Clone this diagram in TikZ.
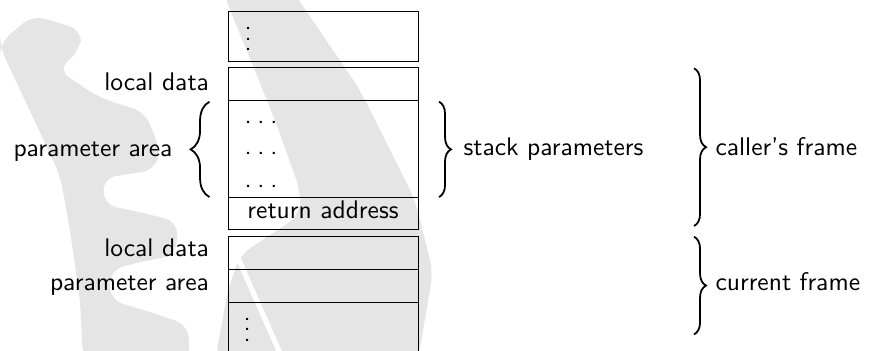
\documentclass[tikz,border=0pt]{standalone}
\usetikzlibrary{decorations.pathreplacing}
\renewcommand{\familydefault}{\sfdefault}
\newcommand{\spdots}{.\kern2.3pt.\kern2.3pt.}
\begin{document}
\begin{tikzpicture}[x=0.392pt,y=-0.392pt,
  cell/.style={draw,line width=0.4pt,minimum width=74.48pt,inner sep=0pt,anchor=north west},
  lbl/.style={inner sep=0pt},
  wm/.style={fill=black!10,draw=none,rounded corners=5pt},
  rbrace/.style={decorate,decoration={brace,amplitude=4.7pt},line width=0.7pt},
  lbrace/.style={decorate,decoration={brace,amplitude=7.4pt},line width=0.7pt}]
\clip (0,0) rectangle (869,350);
% watermark
\fill[wm] (0,43) -- (33,15) -- (82,30) -- (80,50) -- (58,70) -- (100,98) -- (145,112)
  -- (160,150) -- (155,170) -- (103,178) -- (104,205) -- (140,212) -- (178,222)
  -- (176,255) -- (140,262) -- (110,270) -- (110,300) -- (150,312) -- (188,325)
  -- (190,360) -- (83,360) -- (80,300) -- (70,230) -- (60,175) -- (0,47) -- cycle;
\fill[wm] (222,-10) -- (292,-10) -- (360,90) -- (415,200) -- (433,272) -- (418,360)
  -- (215,360) -- (228,290) -- (240,255) -- (300,215) -- (300,190) -- (275,120) -- cycle;
\draw[white,line width=2pt] (238,258) -- (283,360);
% cells
\node[cell,minimum height=19.6pt] (top) at (227.5,10.7) {};
\node[cell,minimum height=12.82pt] (ld1) at (227.5,67.3) {};
\node[cell,minimum height=38.14pt] (pblk) at (227.5,100) {};
\node[cell,minimum height=12.54pt,text depth=3pt] (ret) at (227.5,197.3) {return address};
\node[cell,minimum height=12.94pt] (ld2) at (227.5,236) {};
\node[cell,minimum height=12.94pt] (pa2) at (227.5,269) {};
\node[cell,minimum height=30pt] (bot) at (227.5,302) {};
% dots
\node[lbl,anchor=south west] (vt) at (244,50.8) {$\vdots$};
\node[lbl,anchor=base west] (d1) at (244,123.3) {\spdots};
\node[lbl,anchor=base west] (d2) at (244,154.5) {\spdots};
\node[lbl,anchor=base west] (d3) at (244,187) {\spdots};
\node[lbl,anchor=south west] (vb) at (243,341.5) {$\vdots$};
% labels
\node[lbl,anchor=base east] (ld1l) at (209.5,90.7) {local data};
\node[lbl,anchor=base east] (pa1l) at (173,156) {parameter area};
\node[lbl,anchor=base west] (spl) at (463,155.7) {stack parameters};
\node[lbl,anchor=base west] (cfl) at (715,155) {caller's frame};
\node[lbl,anchor=base east] (ld2l) at (209.5,256) {local data};
\node[lbl,anchor=base east] (pa2l) at (209.5,290) {parameter area};
\node[lbl,anchor=base west] (cur) at (715,290) {current frame};
% braces
\draw[lbrace] ([xshift=-7.06pt,yshift=0.5pt]pblk.south west) -- ([xshift=-7.06pt,yshift=-0.67pt]pblk.north west);
\draw[rbrace] ([xshift=8.04pt,yshift=-0.67pt]pblk.north east) -- ([xshift=8.04pt,yshift=0.5pt]pblk.south east);
\draw[rbrace] ([xshift=108pt,yshift=-0.4pt]ld1.north east) -- ([xshift=108pt,yshift=1.7pt]ret.south east);
\draw[rbrace] ([xshift=108pt,yshift=-0.27pt]ld2.north east) -- ([xshift=108pt,yshift=-12.3pt]pa2.south east);
\end{tikzpicture}
\end{document}
